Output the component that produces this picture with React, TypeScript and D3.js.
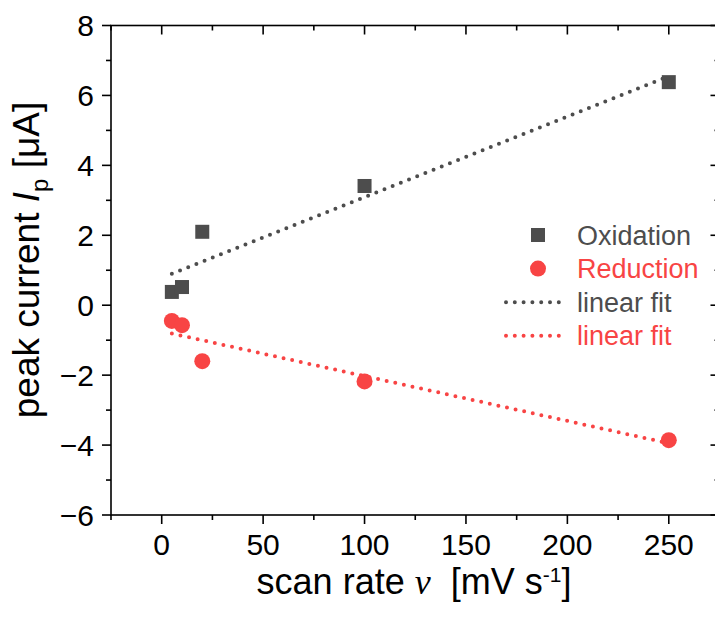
import React from "react";
import * as d3 from "d3";

const scanRates = [5, 10, 20, 100, 250];
const oxidation = [0.38, 0.52, 2.1, 3.41, 6.38];
const reduction = [-0.45, -0.57, -1.6, -2.18, -3.86];
const xTicks = [0, 50, 100, 150, 200, 250];
const yTicks = [-6, -4, -2, 0, 2, 4, 6, 8];
const legendLabels = ["Oxidation", "Reduction", "linear fit", "linear fit"];

const GRAY = "#4d4d4d";
const RED = "#f84444";

function fit(xs: number[], ys: number[]) {
  const mx = d3.mean(xs)!;
  const my = d3.mean(ys)!;
  const sxy = d3.sum(xs.map((x, i) => (x - mx) * (ys[i] - my)));
  const sxx = d3.sum(xs.map((x) => (x - mx) ** 2));
  const b = sxy / sxx;
  const a = my - b * mx;
  return (x: number) => a + b * x;
}

export default function App() {
  const W = 715, H = 621;
  const left = 111, right = 719.5, top = 25.5, bottom = 515;
  const x = d3.scaleLinear().domain([-25, 275]).range([left, right]);
  const y = d3.scaleLinear().domain([-6, 8]).range([bottom, top]);
  const xMinor = d3.range(-25, 276, 25).filter((v) => !xTicks.includes(v));
  const yMinor = d3.range(-5, 8, 2);

  const fo = fit(scanRates, oxidation);
  const fr = fit(scanRates, reduction);
  const xs0 = scanRates[0], xs1 = scanRates[scanRates.length - 1];
  const line = d3.line<[number, number]>().x((d) => x(d[0])).y((d) => y(d[1]));
  const oxFit = line([[xs0, fo(xs0)], [xs1, fo(xs1)]]) as string;
  const redFit = line([[xs0, fr(xs0)], [xs1, fr(xs1)]]) as string;

  const font = "Arial, 'Liberation Sans', sans-serif";
  const sq = 14;
  const cr = 8;
  const legX = 538, legTextX = 577, legY0 = 235, legDy = 33.6;

  return (
    <svg width={W} height={H} style={{ position: "absolute", left: 0, top: 0 }} fontFamily={font}>
      <rect x={0} y={0} width={W} height={H} fill="#fff" />
      <rect x={left} y={top} width={right - left} height={bottom - top} fill="none" stroke="#000" strokeWidth={1.6} />
      {xTicks.map((t) => (
        <g key={"xt" + t}>
          <line x1={x(t)} x2={x(t)} y1={bottom} y2={bottom + 9} stroke="#000" strokeWidth={1.6} />
          <line x1={x(t)} x2={x(t)} y1={top} y2={top + 9} stroke="#000" strokeWidth={1.6} />
          <text x={x(t)} y={555} textAnchor="middle" fontSize={30} fill="#000">{t}</text>
        </g>
      ))}
      {xMinor.map((t) => (
        <g key={"xm" + t}>
          <line x1={x(t)} x2={x(t)} y1={bottom} y2={bottom + 5} stroke="#000" strokeWidth={1.6} />
          <line x1={x(t)} x2={x(t)} y1={top} y2={top + 5} stroke="#000" strokeWidth={1.6} />
        </g>
      ))}
      {yTicks.map((t) => (
        <g key={"yt" + t}>
          <line x1={left - 9} x2={left} y1={y(t)} y2={y(t)} stroke="#000" strokeWidth={1.6} />
          <line x1={right - 9} x2={right} y1={y(t)} y2={y(t)} stroke="#000" strokeWidth={1.6} />
          <text x={94} y={y(t) + 10.5} textAnchor="end" fontSize={30} fill="#000">{t < 0 ? "\u2212" + Math.abs(t) : t}</text>
        </g>
      ))}
      {yMinor.map((t) => (
        <g key={"ym" + t}>
          <line x1={left - 5} x2={left} y1={y(t)} y2={y(t)} stroke="#000" strokeWidth={1.6} />
          <line x1={right - 5} x2={right} y1={y(t)} y2={y(t)} stroke="#000" strokeWidth={1.6} />
        </g>
      ))}
      <path d={oxFit} fill="none" stroke={GRAY} strokeWidth={4} strokeLinecap="round" strokeDasharray="0 8.8" />
      <path d={redFit} fill="none" stroke={RED} strokeWidth={4} strokeLinecap="round" strokeDasharray="0 8.8" />
      {scanRates.map((s, i) => (
        <rect key={"o" + i} x={x(s) - sq / 2} y={y(oxidation[i]) - sq / 2} width={sq} height={sq} fill={GRAY} />
      ))}
      {scanRates.map((s, i) => (
        <circle key={"r" + i} cx={x(s)} cy={y(reduction[i])} r={cr} fill={RED} />
      ))}
      <rect x={legX - 7} y={legY0 - 7} width={14} height={14} fill={GRAY} />
      <circle cx={legX} cy={legY0 + legDy} r={cr} fill={RED} />
      <line x1={506} x2={564} y1={legY0 + 2 * legDy} y2={legY0 + 2 * legDy} stroke={GRAY} strokeWidth={4} strokeLinecap="round" strokeDasharray="0 8.8" />
      <line x1={506} x2={564} y1={legY0 + 3 * legDy} y2={legY0 + 3 * legDy} stroke={RED} strokeWidth={4} strokeLinecap="round" strokeDasharray="0 8.8" />
      {legendLabels.map((l, i) => (
        <text key={"l" + i} x={legTextX} y={legY0 + i * legDy + 9.5} fontSize={27} fill={i % 2 === 0 ? GRAY : RED}>{l}</text>
      ))}
      <text x={414} y={594} textAnchor="middle" fontSize={36} fill="#000">
        scan rate <tspan fontFamily="'Liberation Serif', 'Times New Roman', serif" fontStyle="italic">ν</tspan>{"\u00a0 [mV s"}
        <tspan dy={-12} fontSize={21}>-1</tspan>
        <tspan dy={12}>]</tspan>
      </text>
      <text transform={`translate(39, 260) rotate(-90)`} textAnchor="middle" fontSize={37} fill="#000">
        peak current <tspan fontStyle="italic">I</tspan>
        <tspan dy={9} fontSize={24}>p</tspan>
        <tspan dy={-9}> [μA]</tspan>
      </text>
    </svg>
  );
}
